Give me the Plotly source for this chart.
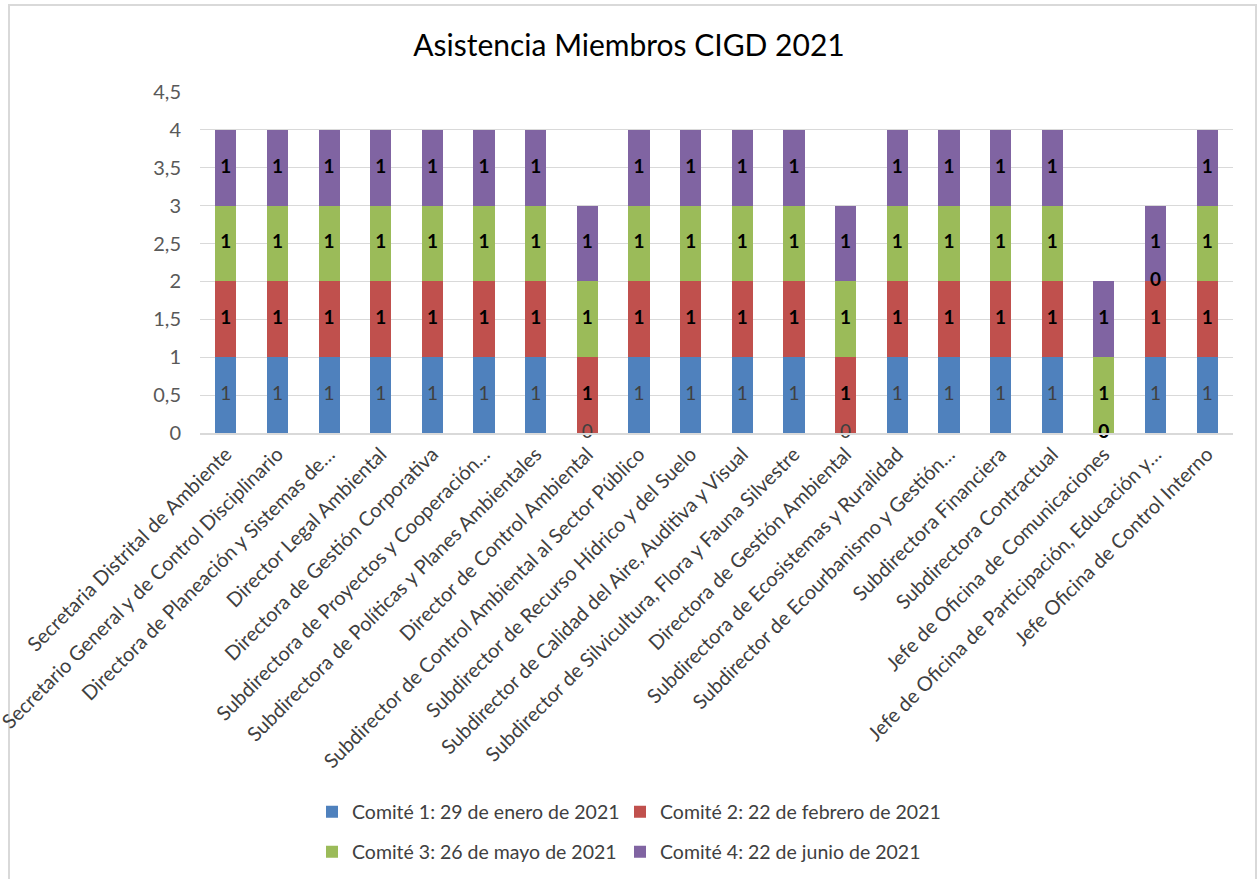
import plotly.graph_objects as go

categories = [
    "Secretaria Distrital de Ambiente",
    "Secretario General y de Control Disciplinario",
    "Directora de Planeación y Sistemas de…",
    "Director Legal Ambiental",
    "Directora de Gestión Corporativa",
    "Subdirectora de Proyectos y Cooperación…",
    "Subdirectora de Políticas y Planes Ambientales",
    "Director de Control Ambiental",
    "Subdirector de Control Ambiental al Sector Público",
    "Subdirector de Recurso Hídrico y del Suelo",
    "Subdirector de Calidad del Aire, Auditiva y Visual",
    "Subdirector de Silvicultura, Flora y Fauna Silvestre",
    "Directora de Gestión Ambiental",
    "Subdirectora de Ecosistemas y Ruralidad",
    "Subdirector de Ecourbanismo y Gestión…",
    "Subdirectora Financiera",
    "Subdirectora Contractual",
    "Jefe de Oficina de Comunicaciones",
    "Jefe de Oficina de Participación, Educación y…",
    "Jefe Oficina de Control Interno",
]

series_names = [
    "Comité 1: 29 de enero de 2021",
    "Comité 2: 22 de febrero de 2021",
    "Comité 3: 26 de mayo de 2021",
    "Comité 4: 22 de junio de 2021",
]
comite1 = [1, 1, 1, 1, 1, 1, 1, 0, 1, 1, 1, 1, 0, 1, 1, 1, 1, 0, 1, 1]
comite2 = [1, 1, 1, 1, 1, 1, 1, 1, 1, 1, 1, 1, 1, 1, 1, 1, 1, 0, 1, 1]
comite3 = [1, 1, 1, 1, 1, 1, 1, 1, 1, 1, 1, 1, 1, 1, 1, 1, 1, 1, 0, 1]
comite4 = [1, 1, 1, 1, 1, 1, 1, 1, 1, 1, 1, 1, 1, 1, 1, 1, 1, 1, 1, 1]

colors = ["#4F81BD", "#C0504D", "#9BBB59", "#8064A2"]
FONT = "Lato"
label_fonts = [
    dict(family=FONT, size=19, color="#404040"),
    dict(family=FONT, size=19, color="#000000", weight="bold"),
    dict(family=FONT, size=19, color="#000000", weight="bold"),
    dict(family=FONT, size=19, color="#000000", weight="bold"),
]
legend_ids = ["legend", "legend2", "legend3", "legend4"]
# legend placement (pixels of the page): text-left x, row center y
legend_pos = [(352, 812), (660, 812), (352, 852), (660, 852)]

fig = go.Figure()

all_series = [comite1, comite2, comite3, comite4]
base = [0] * len(categories)
label_traces = []
for name, vals, col, lg in zip(series_names, all_series, colors, legend_ids):
    fig.add_trace(go.Bar(
        x=categories, y=vals, name=name, marker=dict(color=col, line=dict(width=0)),
        legend=lg,
    ))
    mids = [b + v / 2 for b, v in zip(base, vals)]
    label_traces.append((mids, vals))
    base = [b + v for b, v in zip(base, vals)]

for (mids, vals), f in zip(label_traces, label_fonts):
    fig.add_trace(go.Scatter(
        x=categories, y=mids, text=[str(v) for v in vals], mode="text",
        textposition="middle center", textfont=f, showlegend=False,
        cliponaxis=False, hoverinfo="skip",
    ))

legends = {}
for lg, (px, py) in zip(legend_ids, legend_pos):
    legends[lg] = dict(orientation="h", xref="container", yref="container",
                       x=(px - 40) / 1258, y=1 - py / 879,
                       xanchor="left", yanchor="middle",
                       font=dict(family=FONT, size=19.5, color="#404040"),
                       itemwidth=30, bgcolor="rgba(0,0,0,0)")

fig.update_layout(
    width=1258, height=879,
    barmode="stack", bargap=0.59,
    separators=",.",
    paper_bgcolor="white", plot_bgcolor="white",
    font=dict(family=FONT, color="#595959"),
    margin=dict(l=200, r=25, t=92, b=446, autoexpand=False),
    title=dict(text="Asistencia Miembros CIGD 2021", x=0.5, xref="container",
               y=1 - 45 / 879, yref="container", yanchor="middle", xanchor="center",
               font=dict(family=FONT, size=30, color="#000000")),
    xaxis=dict(tickangle=-45, tickfont=dict(family=FONT, size=20, color="#404040"),
               showline=True, linecolor="#d9d9d9", linewidth=1.5, ticks="",
               showgrid=False, range=[-0.5, len(categories) - 0.5]),
    yaxis=dict(range=[0, 4.5], dtick=0.5, tickformat=",.1~f",
               tickfont=dict(family=FONT, size=20, color="#595959"),
               showgrid=True, gridcolor="#d9d9d9", gridwidth=1.3, zeroline=False,
               showline=False, ticks="", ticklabelstandoff=18),
    shapes=[dict(type="rect", xref="paper", yref="paper",
                 x0=(9 - 200) / 1033, x1=(1256 - 200) / 1033,
                 y0=(432.7 - 890) / 340.7, y1=(432.7 - 5) / 340.7,
                 line=dict(color="#d9d9d9", width=2), fillcolor="rgba(0,0,0,0)",
                 layer="below")],
    **legends,
)

fig.write_html("out.html")
